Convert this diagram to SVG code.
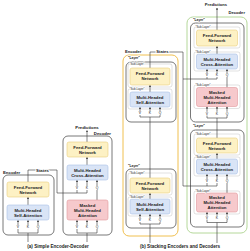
<svg xmlns="http://www.w3.org/2000/svg" width="250" height="251" viewBox="0 0 250 251">
<style>
text { font-family: "Liberation Sans", Arial, sans-serif; fill: #222; }
.n { font-size: 4.3px; font-weight: bold; text-anchor: middle; }
.lbl { font-size: 4.3px; font-weight: bold; }
.lb2 { font-size: 4.1px; font-weight: bold; }
.cap { font-size: 4.6px; font-weight: bold; text-anchor: middle; }
.io { font-size: 3.4px; text-anchor: middle; }
.sl { font-size: 2.8px; stroke: #fff; stroke-width: 1; paint-order: stroke; }
.ly { font-size: 3.3px; font-weight: bold; stroke: #fff; stroke-width: 1; paint-order: stroke; }
.halo { stroke: #fff; stroke-width: 1.6; paint-order: stroke; }
.ffn { fill: #fdf1c4; stroke: #e9cf7e; stroke-width: 0.6; }
.att { fill: #d9e4f6; stroke: #a9c0e6; stroke-width: 0.6; }
.msk { fill: #f6c9cc; stroke: #e0979c; stroke-width: 0.6; }
.box { fill: none; stroke: #555; stroke-width: 0.8; }
.sub { fill: none; stroke: #aaa; stroke-width: 0.35; }
.enc { fill: none; stroke: #f0c050; stroke-width: 1; }
.dec { fill: none; stroke: #b5d89a; stroke-width: 1; }
.c { fill: none; stroke: #333; stroke-width: 0.6; }
.a { marker-end: url(#ah); }
</style>
<defs>
<marker id="ah" viewBox="0 0 6 6" refX="5" refY="3" markerWidth="3.5" markerHeight="3.5" orient="auto"><path d="M0,0 L6,3 L0,6 z" fill="#333"/></marker>
</defs>

<!-- containers -->
<g id="containers">
<rect id="a-encoder" class="box" x="3" y="175" width="51" height="60" rx="5"/>
<rect id="a-decoder" class="box" x="63" y="136" width="49" height="99" rx="5"/>
<rect id="b-encoder" class="enc" x="123" y="55" width="55" height="181" rx="6"/>
<rect id="b-enc-layer1" class="box" x="126" y="62" width="50" height="60" rx="5"/>
<rect id="b-enc-layer2" class="box" x="126" y="169" width="50" height="59" rx="5"/>
<rect id="b-decoder" class="dec" x="187" y="17" width="60" height="216" rx="6"/>
<rect id="b-dec-layer1" class="box" x="190.5" y="23" width="53.5" height="99" rx="5"/>
<rect id="b-dec-layer2" class="box" x="190.5" y="130" width="53.5" height="97" rx="5"/>
<rect class="sub" x="128" y="64" width="44" height="23" rx="2"/>
<rect class="sub" x="128" y="89" width="44" height="20" rx="2"/>
<rect class="sub" x="128" y="173" width="44" height="22" rx="2"/>
<rect class="sub" x="128" y="197" width="44" height="19" rx="2"/>
<rect class="sub" x="194" y="27" width="46" height="21" rx="2"/>
<rect class="sub" x="194" y="52" width="46" height="19" rx="2"/>
<rect class="sub" x="194" y="85" width="46" height="23.5" rx="2"/>
<rect class="sub" x="194" y="134" width="46" height="21" rx="2"/>
<rect class="sub" x="194" y="157" width="46" height="19" rx="2"/>
<rect class="sub" x="194" y="191" width="46" height="23" rx="2"/>
</g>

<!-- connectors -->
<g id="connectors">
<!-- (a) encoder -->
<path class="c" d="M28,242 V233 M18,233 H38 M18,233 V229 M38,233 V229"/>
<path class="c a" d="M18,225.2 V220.3"/>
<path class="c a" d="M28,225.2 V220.3"/>
<path class="c a" d="M38,225.2 V220.3"/>
<path class="c a" d="M28,205 V197.3"/>
<path class="c" d="M28,182 V170 H57 V193 H87 M77,193 V190 M87,193 V190"/>
<!-- (a) decoder -->
<path class="c a" d="M77,186.2 V180.3"/>
<path class="c a" d="M87,186.2 V180.3"/>
<path class="c" d="M97,200 V190"/>
<path class="c a" d="M97,186.2 V180.3"/>
<path class="c a" d="M87,165 V157.3"/>
<path class="c a" d="M87,142 V130.5"/>
<path class="c" d="M87,242 V233 M77,233 H97 M77,233 V229 M97,233 V229"/>
<path class="c a" d="M77,225.2 V220.3"/>
<path class="c a" d="M87,225.2 V220.3"/>
<path class="c a" d="M97,225.2 V220.3"/>
<!-- (b) encoder -->
<path class="c" d="M150,243 V224 M140,224 H160 M140,224 V222 M160,224 V222"/>
<path class="c a" d="M140,218.3 V214.3"/>
<path class="c a" d="M150,218.3 V214.3"/>
<path class="c a" d="M160,218.3 V214.3"/>
<path class="c a" d="M150,199 V193.3"/>
<path class="c" d="M150,178 V117 M140,117 H160 M140,117 V115 M160,117 V115"/>
<path class="c a" d="M140,111.3 V107.3"/>
<path class="c a" d="M150,111.3 V107.3"/>
<path class="c a" d="M160,111.3 V107.3"/>
<path class="c a" d="M150,92 V85.3"/>
<path class="c" d="M150,68 V52 H183 V186 H217 M183,79 H217 M207,79 V77 M217,79 V77 M207,186 V183 M217,186 V183"/>
<!-- (b) decoder layer 1 -->
<path class="c a" d="M217,30 V8"/>
<path class="c a" d="M217,54 V46.3"/>
<path class="c a" d="M207,73.3 V69.3"/>
<path class="c a" d="M217,73.3 V69.3"/>
<path class="c" d="M227,87.5 V77"/>
<path class="c a" d="M227,73.3 V69.3"/>
<path class="c" d="M217,138 V118 M207,118 H227 M207,118 V115.5 M227,118 V115.5"/>
<path class="c a" d="M207,111.8 V106.8"/>
<path class="c a" d="M217,111.8 V106.8"/>
<path class="c a" d="M227,111.8 V106.8"/>
<!-- (b) decoder layer 2 -->
<path class="c a" d="M217,159 V153.3"/>
<path class="c a" d="M207,179.3 V174.3"/>
<path class="c a" d="M217,179.3 V174.3"/>
<path class="c" d="M227,193 V183"/>
<path class="c a" d="M227,179.3 V174.3"/>
<path class="c" d="M217,243 V222.5 M207,222.5 H227 M207,222.5 V219.5 M227,222.5 V219.5"/>
<path class="c a" d="M207,215.8 V212.3"/>
<path class="c a" d="M217,215.8 V212.3"/>
<path class="c a" d="M227,215.8 V212.3"/>
</g>

<!-- (a) nodes -->
<g id="a-enc-ffn"><rect class="ffn" x="7" y="182" width="42" height="15" rx="2"/><text class="n" x="28" y="188.6">Feed-Forward</text><text class="n" x="28" y="193.6">Network</text></g>
<g id="a-enc-sa"><rect class="att" x="7" y="205" width="42" height="15" rx="2"/><text class="n" x="28" y="211.6">Multi-Headed</text><text class="n" x="28" y="216.6">Self-Attention</text></g>
<g id="a-enc-io"><text class="io" x="18" y="228.2">V</text><text class="io" x="28" y="228.2">K</text><text class="io" x="38" y="228.2">Q</text></g>
<g id="a-dec-ffn"><rect class="ffn" x="67" y="142" width="41" height="15" rx="2"/><text class="n" x="87.5" y="148.6">Feed-Forward</text><text class="n" x="87.5" y="153.6">Network</text></g>
<g id="a-dec-ca"><rect class="att" x="67" y="165" width="41" height="15" rx="2"/><text class="n" x="87.5" y="171.6">Multi-Headed</text><text class="n" x="87.5" y="176.6">Cross-Attention</text></g>
<g id="a-dec-ca-io"><text class="io" x="77" y="189.2">V</text><text class="io" x="87" y="189.2">K</text><text class="io" x="97" y="189.2">Q</text></g>
<g id="a-dec-ma"><rect class="msk" x="67" y="200" width="41" height="20" rx="2"/><text class="n" x="87.5" y="206.6">Masked</text><text class="n" x="87.5" y="211.6">Multi-Headed</text><text class="n" x="87.5" y="216.6">Attention</text></g>
<g id="a-dec-ma-io"><text class="io" x="77" y="228.2">V</text><text class="io" x="87" y="228.2">K</text><text class="io" x="97" y="228.2">Q</text></g>
<g id="a-labels">
<text class="lbl" x="3" y="173.5">Encoder</text>
<text class="lbl halo" x="42.5" y="171.5" text-anchor="middle">States</text>
<text class="lbl" x="111" y="134.5" text-anchor="end">Decoder</text>
<text class="lbl" x="87" y="128.5" text-anchor="middle">Predictions</text>
<text class="cap" x="58" y="248">(a) Simple Encoder-Decoder</text>
</g>

<!-- (b) encoder nodes -->
<g id="b-enc1-ffn"><rect class="ffn" x="130" y="68" width="40" height="17" rx="2"/><text class="n" x="150" y="75.1">Feed-Forward</text><text class="n" x="150" y="80.1">Network</text></g>
<g id="b-enc1-sa"><rect class="att" x="130" y="92" width="40" height="15" rx="2"/><text class="n" x="150" y="98.6">Multi-Headed</text><text class="n" x="150" y="103.6">Self-Attention</text></g>
<g id="b-enc1-io"><text class="io" x="140" y="114.2">V</text><text class="io" x="150" y="114.2">K</text><text class="io" x="160" y="114.2">Q</text></g>
<g id="b-enc2-ffn"><rect class="ffn" x="130" y="178" width="40" height="15" rx="2"/><text class="n" x="150" y="184.6">Feed-Forward</text><text class="n" x="150" y="189.6">Network</text></g>
<g id="b-enc2-sa"><rect class="att" x="130" y="199" width="40" height="15" rx="2"/><text class="n" x="150" y="205.6">Multi-Headed</text><text class="n" x="150" y="210.6">Self-Attention</text></g>
<g id="b-enc2-io"><text class="io" x="140" y="221.2">V</text><text class="io" x="150" y="221.2">K</text><text class="io" x="160" y="221.2">Q</text></g>

<!-- (b) decoder nodes -->
<g id="b-dec1-ffn"><rect class="ffn" x="196.5" y="30" width="41" height="16" rx="2"/><text class="n" x="217" y="37.1">Feed-Forward</text><text class="n" x="217" y="42.1">Network</text></g>
<g id="b-dec1-ca"><rect class="att" x="196.5" y="54" width="41" height="15" rx="2"/><text class="n" x="217" y="60.6">Multi-Headed</text><text class="n" x="217" y="65.6">Cross-Attention</text></g>
<g id="b-dec1-ca-io"><text class="io" x="207" y="76.2">V</text><text class="io" x="217" y="76.2">K</text><text class="io" x="227" y="76.2">Q</text></g>
<g id="b-dec1-ma"><rect class="msk" x="196.5" y="87.5" width="41" height="19" rx="2"/><text class="n" x="217" y="93.6">Masked</text><text class="n" x="217" y="98.6">Multi-Headed</text><text class="n" x="217" y="103.6">Attention</text></g>
<g id="b-dec1-ma-io"><text class="io" x="207" y="114.7">V</text><text class="io" x="217" y="114.7">K</text><text class="io" x="227" y="114.7">Q</text></g>
<g id="b-dec2-ffn"><rect class="ffn" x="196.5" y="138" width="41" height="15" rx="2"/><text class="n" x="217" y="144.6">Feed-Forward</text><text class="n" x="217" y="149.6">Network</text></g>
<g id="b-dec2-ca"><rect class="att" x="196.5" y="159" width="41" height="15" rx="2"/><text class="n" x="217" y="165.6">Multi-Headed</text><text class="n" x="217" y="170.6">Cross-Attention</text></g>
<g id="b-dec2-ca-io"><text class="io" x="207" y="182.2">V</text><text class="io" x="217" y="182.2">K</text><text class="io" x="227" y="182.2">Q</text></g>
<g id="b-dec2-ma"><rect class="msk" x="196.5" y="193" width="41" height="19" rx="2"/><text class="n" x="217" y="199.1">Masked</text><text class="n" x="217" y="204.1">Multi-Headed</text><text class="n" x="217" y="209.1">Attention</text></g>
<g id="b-dec2-ma-io"><text class="io" x="207" y="218.7">V</text><text class="io" x="217" y="218.7">K</text><text class="io" x="227" y="218.7">Q</text></g>

<g id="b-labels">
<text class="lb2" x="125" y="53.3">Encoder</text>
<text class="lb2 halo" x="162.5" y="53.3" text-anchor="middle">States</text>
<text class="lb2" x="245" y="13.5" text-anchor="end">Decoder</text>
<text class="lb2" x="216" y="5.5" text-anchor="middle">Predictions</text>
<text class="ly" x="128" y="59.3">"Layer"</text>
<text class="ly" x="128" y="167.3">"Layer"</text>
<text class="ly" x="193" y="21.3">"Layer"</text>
<text class="ly" x="193" y="127.3">"Layer"</text>
<text class="sl" x="129.5" y="65">"Sub-Layer"</text>
<text class="sl" x="129.5" y="90">"Sub-Layer"</text>
<text class="sl" x="129.5" y="174">"Sub-Layer"</text>
<text class="sl" x="129.5" y="198">"Sub-Layer"</text>
<text class="sl" x="195.5" y="28">"Sub-Layer"</text>
<text class="sl" x="195.5" y="53">"Sub-Layer"</text>
<text class="sl" x="195.5" y="86">"Sub-Layer"</text>
<text class="sl" x="195.5" y="135">"Sub-Layer"</text>
<text class="sl" x="195.5" y="158">"Sub-Layer"</text>
<text class="sl" x="195.5" y="192">"Sub-Layer"</text>
<text class="cap" x="180" y="248">(b) Stacking Encoders and Decoders</text>
</g>
</svg>
